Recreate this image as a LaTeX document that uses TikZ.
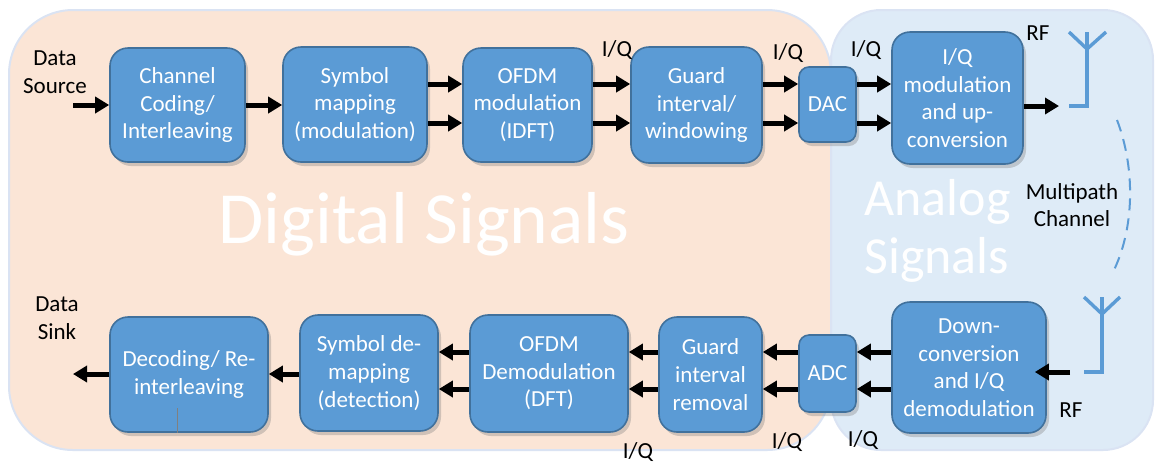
\documentclass[tikz,border=0pt]{standalone}
\usepackage{fontspec}
\setmainfont{Carlito}
\usepackage{tikz}
\usetikzlibrary{arrows.meta, shadows, calc}
\definecolor{boxblue}{HTML}{5B9BD5}
\definecolor{boxedge}{HTML}{41719C}
\definecolor{peach}{HTML}{FBE5D6}
\definecolor{paleblue}{HTML}{DEEBF7}
\definecolor{rimblue}{HTML}{DAE3F3}

\begin{document}
\begin{tikzpicture}[x=0.5pt, y=-0.5pt, >={Triangle[length=7pt,width=8pt]},
  blk/.style={draw=boxedge, line width=0.8pt, fill=boxblue, rounded corners=9pt,
    text=white, align=center, inner sep=0pt, font=\fontsize{11.5}{13.8}\selectfont,
    drop shadow={opacity=0.35, shadow xshift=1.5pt, shadow yshift=-2pt}},
  lbl/.style={align=center, font=\fontsize{11.5}{13.8}\selectfont},
  arr/.style={->, line width=2.5pt},
  ant/.style={draw=boxblue, line width=1.7pt},
  bigtxt/.style={text=white, align=center, inner sep=0pt}]
\useasboundingbox (0,0) rectangle (1155,462);
% backgrounds
\draw[fill=peach, draw=rimblue, line width=1pt, rounded corners=32pt] (9,10) rectangle (831,450);
\draw[fill=paleblue, draw=rimblue, line width=1pt, rounded corners=25pt] (831,10) rectangle (1153,450);
\node[bigtxt, anchor=base west, font=\fontsize{36.8}{40}\selectfont] (dig) at (218,243) {Digital Signals};
\node[bigtxt, anchor=base west, font=\fontsize{26}{29}\selectfont] (ana1) at (864,215) {Analog};
\node[bigtxt, anchor=base west, font=\fontsize{26}{29}\selectfont] (ana2) at (864,273) {Signals};

% transmitter
\node[blk, minimum width=67.5pt, minimum height=57pt] (chcod) at (177.5,105) {Channel\\Coding/\\Interleaving};
\node[blk, minimum width=72pt, minimum height=57.5pt] (symmap) at (355,104.5) {Symbol\\mapping\\(modulation)};
\node[blk, minimum width=64.5pt, minimum height=57pt] (ofdmmod) at (527.5,105) {OFDM\\modulation\\(IDFT)};
\node[blk, minimum width=65.5pt, minimum height=58pt] (guard) at (696.5,105) {Guard\\interval/\\windowing};
\node[blk, minimum width=28.5pt, minimum height=37.5pt, rounded corners=5pt] (dac) at (827.5,104.5) {DAC};
\node[blk, minimum width=65.5pt, minimum height=66pt] (iqmod) at (957.5,98) {I/Q\\modulation\\and up-\\conversion};

% receiver
\node[blk, minimum width=79pt, minimum height=57.5pt] (decod) at (189,374.5) {Decoding/ Re-\\interleaving};
\node[blk, minimum width=69pt, minimum height=58pt] (symdem) at (369,373) {Symbol de-\\mapping\\(detection)};
\node[blk, minimum width=79pt, minimum height=58.5pt] (ofdmdem) at (549,373.5) {OFDM\\Demodulation\\(DFT)};
\node[blk, minimum width=51.5pt, minimum height=57.5pt] (guardrem) at (710.5,374.5) {Guard\\interval\\removal};
\node[blk, minimum width=28.5pt, minimum height=38.5pt, rounded corners=5pt] (adc) at (827.5,373.5) {ADC};
\node[blk, minimum width=77pt, minimum height=65.5pt] (downc) at (969,367.5) {Down-\\conversion\\and I/Q\\demodulation};
\draw[gray, line width=0.5pt] ([xshift=-6pt]decod.south) -- ++(0,-25);

% labels
\node[lbl] (src) at (55,72) {Data\\Source};
\node[lbl] (snk) at (57,318) {Data\\Sink};
\node[lbl] (iq1) at (617,50) {I/Q};
\node[lbl] (iq2) at (788,53) {I/Q};
\node[lbl] (iq3) at (866,50) {I/Q};
\node[lbl] (iq4) at (638,452) {I/Q};
\node[lbl] (iq5) at (787,442) {I/Q};
\node[lbl] (iq6) at (863,440) {I/Q};
\node[lbl] (rf1) at (1038,33) {RF};
\node[lbl] (rf2) at (1071,410) {RF};
\node[lbl] (mpc) at (1072,205) {Multipath\\Channel};

% antennas and channel
\coordinate (tx) at (1069,106);
\coordinate (rx) at (1084,372);
\draw[ant] (tx) -- ++(18,0) -- ++(0,-74);
\draw[ant] ($(tx)+(0,-74)$) -- ++(18,17) -- ++(19,-17);
\draw[ant] (rx) -- ++(18,0) -- ++(0,-75);
\draw[ant] ($(rx)+(0,-75)$) -- ++(18,17) -- ++(18,-17);
\draw[boxblue, line width=1pt, dash pattern=on 6pt off 4pt] (1117,120) .. controls (1136,170) and (1134,230) .. (1113,272);

% connectors
\coordinate (srcin) at (73,105);
\coordinate (snkout) at (73,374);
\draw[arr] (srcin) -- (srcin -| chcod.west);
\draw[arr] (chcod.east) -- (chcod.east -| symmap.west);
\foreach \y in {84,123}{
  \draw[arr] (symmap.east |- 0,\y) -- (ofdmmod.west |- 0,\y);
  \draw[arr] (ofdmmod.east |- 0,\y) -- (guard.west |- 0,\y);
  \draw[arr] (guard.east |- 0,\y) -- (dac.west |- 0,\y);
  \draw[arr] (dac.east |- 0,\y) -- (iqmod.west |- 0,\y);
}
\draw[arr] (iqmod.east |- tx) -- ([xshift=-5pt]tx);
\draw[arr] ([xshift=-7pt]rx) -- ([xshift=-6pt]downc.east |- rx);
\foreach \y in {352,389}{
  \draw[arr] (downc.west |- 0,\y) -- (adc.east |- 0,\y);
  \draw[arr] (adc.west |- 0,\y) -- (guardrem.east |- 0,\y);
  \draw[arr] (guardrem.west |- 0,\y) -- (ofdmdem.east |- 0,\y);
  \draw[arr] (ofdmdem.west |- 0,\y) -- (symdem.east |- 0,\y);
}
\draw[arr] (symdem.west |- snkout) -- (decod.east |- snkout);
\draw[arr] (decod.west |- snkout) -- (snkout);

\end{tikzpicture}
\end{document}
